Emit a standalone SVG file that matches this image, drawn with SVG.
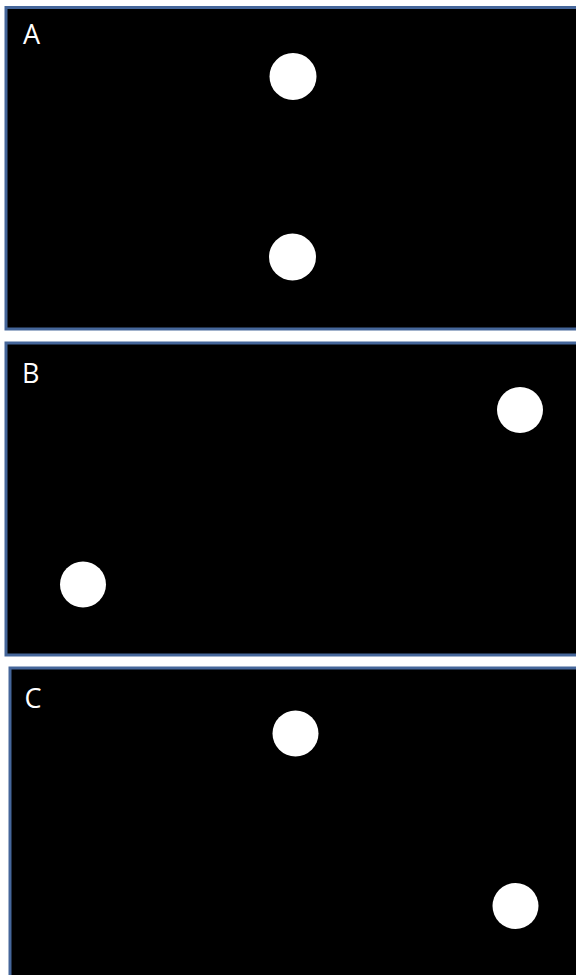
<svg xmlns="http://www.w3.org/2000/svg" width="576" height="975" viewBox="0 0 576 975">
<style>
.panel{fill:#000;stroke:#45669a;stroke-width:3}
.dot{fill:#fff}
.lbl{font-family:"Open Sans","Liberation Sans",Arial,sans-serif;font-size:27px;fill:#fff}
</style>
<rect width="576" height="975" fill="#fff"/>
<g id="panelA">
<rect class="panel" x="6" y="7.5" width="600" height="321.5"/>
<text class="lbl" x="23" y="44">A</text>
<circle id="A1" class="dot" cx="293" cy="76.5" r="23.5"/>
<circle id="A2" class="dot" cx="292.5" cy="257" r="23.5"/>
</g>
<g id="panelB">
<rect class="panel" x="6" y="343" width="600" height="312"/>
<text class="lbl" x="22" y="382.5">B</text>
<circle id="B1" class="dot" cx="520" cy="410" r="23"/>
<circle id="B2" class="dot" cx="83" cy="584.5" r="23"/>
</g>
<g id="panelC">
<rect class="panel" x="10" y="668" width="600" height="320"/>
<text class="lbl" x="24.5" y="707.5">C</text>
<circle id="C1" class="dot" cx="295.5" cy="733.5" r="23"/>
<circle id="C2" class="dot" cx="515.5" cy="906" r="23"/>
</g>
<g id="connectors"/>
</svg>
